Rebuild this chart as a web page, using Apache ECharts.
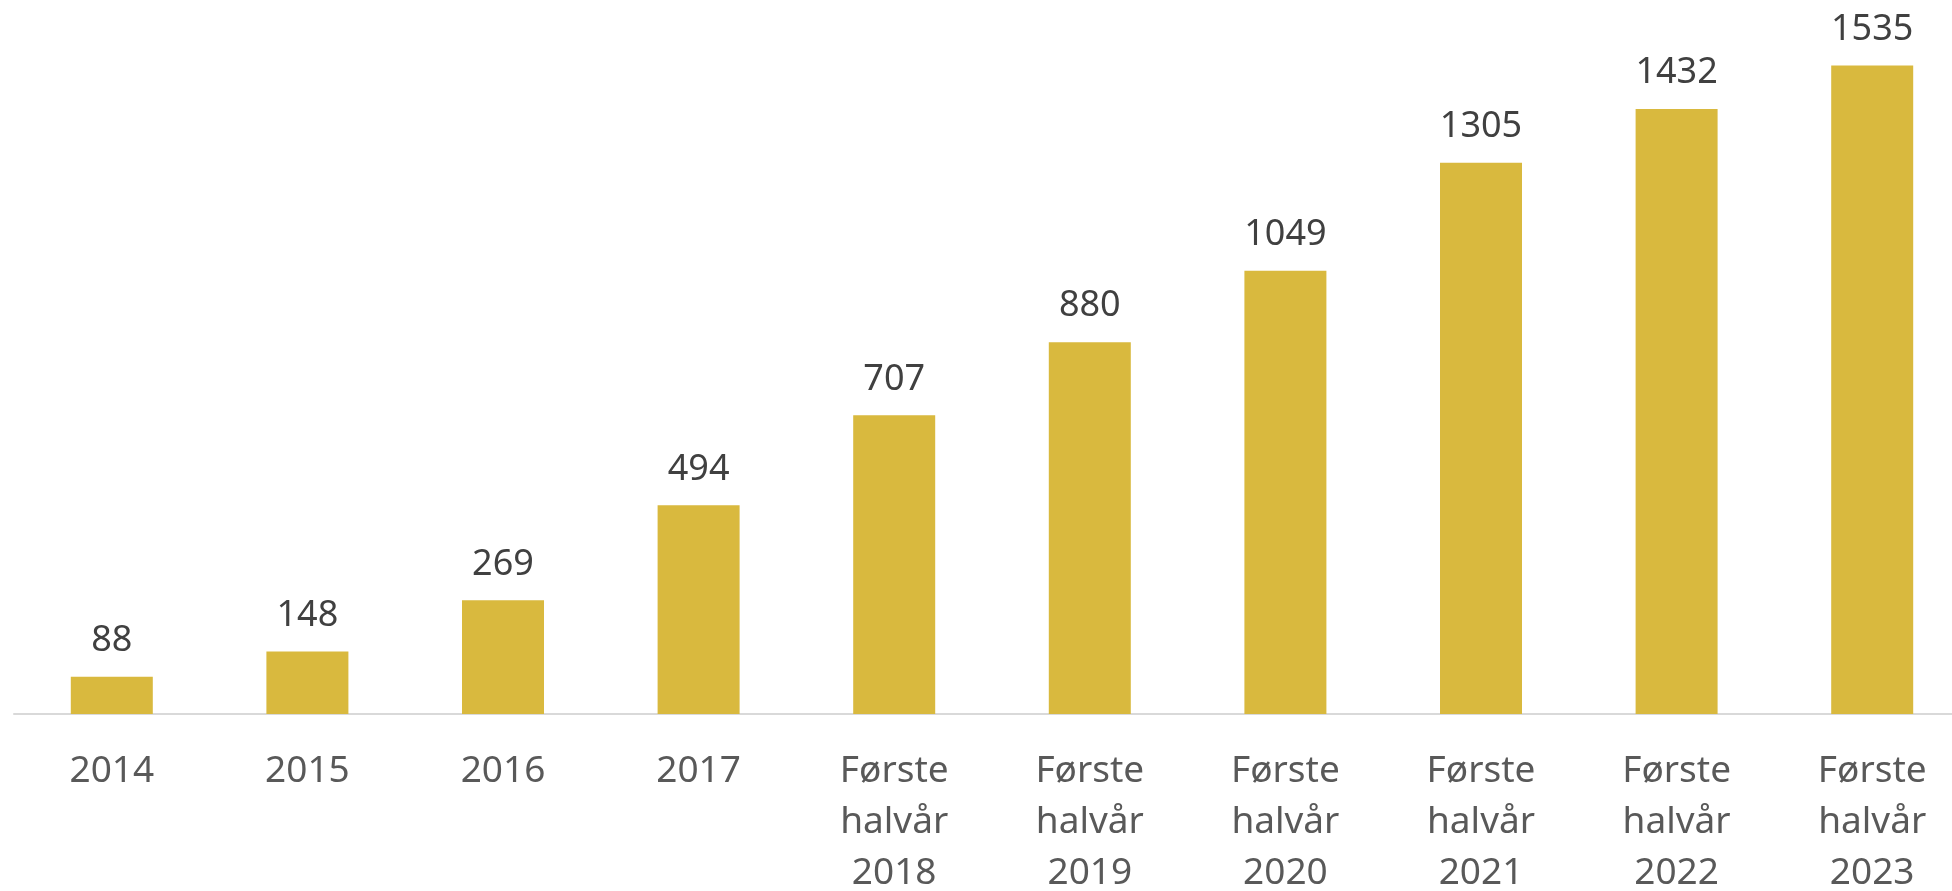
<!DOCTYPE html>
<html>
<head>
<meta charset="utf-8">
<script src="https://cdn.jsdelivr.net/npm/echarts@6/dist/echarts.min.js"></script>
<style>
	html, body { margin: 0; padding: 0; background: #fff; }
	#chart { width: 1952px; height: 891px; }
</style>
</head>
<body>
<div id="chart"></div>
<script>
// Categories and values
const categories = [
	'2014', '2015', '2016', '2017',
	'Første\nhalvår\n2018', 'Første\nhalvår\n2019', 'Første\nhalvår\n2020',
	'Første\nhalvår\n2021', 'Første\nhalvår\n2022', 'Første\nhalvår\n2023'
]
const values = [88, 148, 269, 494, 707, 880, 1049, 1305, 1432, 1535]

var chart = echarts.init(document.getElementById('chart'))

const option = {
	animation: false,
	grid: {
		left: 14,
		right: -18,
		top: 0,
		bottom: 177,
		outerBoundsMode: 'none',
	},
	xAxis: {
		type: 'category',
		data: categories,
		axisLine: { lineStyle: { color: '#D9D9D9', width: 2 } },
		axisTick: { show: false },
		axisLabel: {
			interval: 0,
			margin: 32,
			fontFamily: 'Noto Sans',
			fontSize: 37,
			lineHeight: 51,
			color: '#595959',
		},
	},
	yAxis: {
		type: 'value',
		min: 0,
		max: 1690,
		show: false,
		splitLine: { show: false },
	},
	series: [
		{
			type: 'bar',
			data: values,
			barWidth: 82,
			itemStyle: { color: '#D9B93E' },
			label: {
				show: true,
				position: 'top',
				distance: 18,
				fontFamily: 'Noto Sans',
				fontSize: 36,
				color: '#404040',
			},
		},
	],
}

// Set options to chart
chart.setOption(option)
</script>
</body>
</html>
